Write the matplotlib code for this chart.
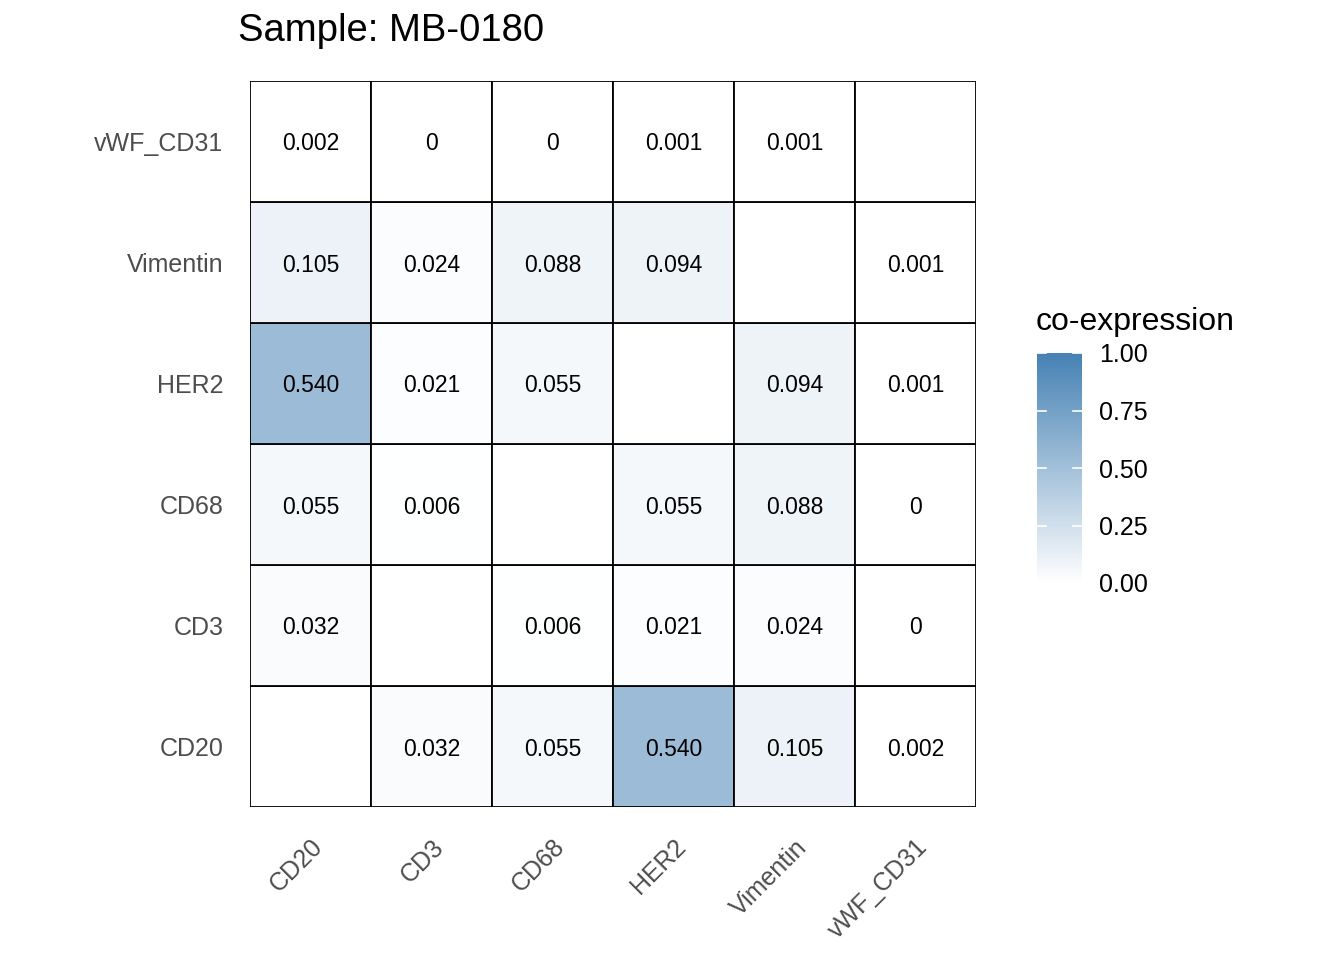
import numpy as np
import matplotlib
matplotlib.use("Agg")
import matplotlib.pyplot as plt
from matplotlib.colors import LinearSegmentedColormap
from matplotlib.patches import Rectangle

plt.rcParams['font.family'] = ['Liberation Sans', 'DejaVu Sans']

markers = ["CD20", "CD3", "CD68", "HER2", "Vimentin", "vWF_CD31"]
# rows from bottom (y) to top, columns left to right (x); None = diagonal (NA)
values = [
    [None, 0.032, 0.055, 0.540, 0.105, 0.002],   # CD20
    [0.032, None, 0.006, 0.021, 0.024, 0.0],     # CD3
    [0.055, 0.006, None, 0.055, 0.088, 0.0],     # CD68
    [0.540, 0.021, 0.055, None, 0.094, 0.001],   # HER2
    [0.105, 0.024, 0.088, 0.094, None, 0.001],   # Vimentin
    [0.002, 0.0, 0.0, 0.001, 0.001, None],       # vWF_CD31
]
title = "Sample: MB-0180"
legend_title = "co-expression"
cbar_ticks = [0.0, 0.25, 0.5, 0.75, 1.0]

cmap = LinearSegmentedColormap.from_list("wb", ["#FFFFFF", "#4682B4"])

fig = plt.figure(figsize=(13.44, 9.6), dpi=100)
ax = fig.add_axes([250/1344, 1-807/960, 726/1344, 726/960])
n = len(markers)
for yi, row in enumerate(values):
    for xi, v in enumerate(row):
        fc = "white" if v is None else cmap(v)
        ax.add_patch(Rectangle((xi - 0.5, yi - 0.5), 1, 1, facecolor=fc,
                               edgecolor="black", linewidth=1.3))
        if v is not None:
            lab = "0" if v == 0 else f"{v:.3f}"
            ax.text(xi, yi, lab, ha="center", va="center_baseline",
                    fontsize=16.5, color="black")
ax.set_xlim(-0.5, n - 0.5)
ax.set_ylim(-0.5, n - 0.5)
for s in ax.spines.values():
    s.set_visible(False)
ax.set_xticks(range(n))
ax.set_yticks(range(n))
ax.set_xticklabels(markers, rotation=45, ha="right", va="top",
                   rotation_mode="anchor", fontsize=18, color="#4D4D4D")
ax.set_yticklabels(markers, fontsize=18, color="#4D4D4D")
ax.tick_params(length=0)
ax.tick_params(axis="x", pad=20)
ax.tick_params(axis="y", pad=19)

fig.text(238/1344, 1 - 31/960, title, fontsize=27.5, ha="left", va="center")

cax = fig.add_axes([1037/1344, 1-583/960, 45/1344, 230/960])
grad = np.linspace(0, 1, 300).reshape(-1, 1)
cax.imshow(grad, aspect="auto", cmap=cmap, origin="lower", extent=[0, 1, 0, 1])
cax.set_xlim(0, 1)
cax.set_ylim(0, 1)
for t in cbar_ticks:
    cax.plot([0, 0.2], [t, t], color="white", lw=1.2)
    cax.plot([0.8, 1], [t, t], color="white", lw=1.2)
for s in cax.spines.values():
    s.set_visible(False)
cax.set_xticks([])
cax.yaxis.tick_right()
cax.set_yticks(cbar_ticks)
cax.set_yticklabels([f"{t:.2f}" for t in cbar_ticks], fontsize=18)
cax.tick_params(axis="y", length=0, pad=12)
fig.text(1036/1344, 1 - 322/960, legend_title, fontsize=23, ha="left",
         va="center")

fig.savefig("out.png", dpi=100)
